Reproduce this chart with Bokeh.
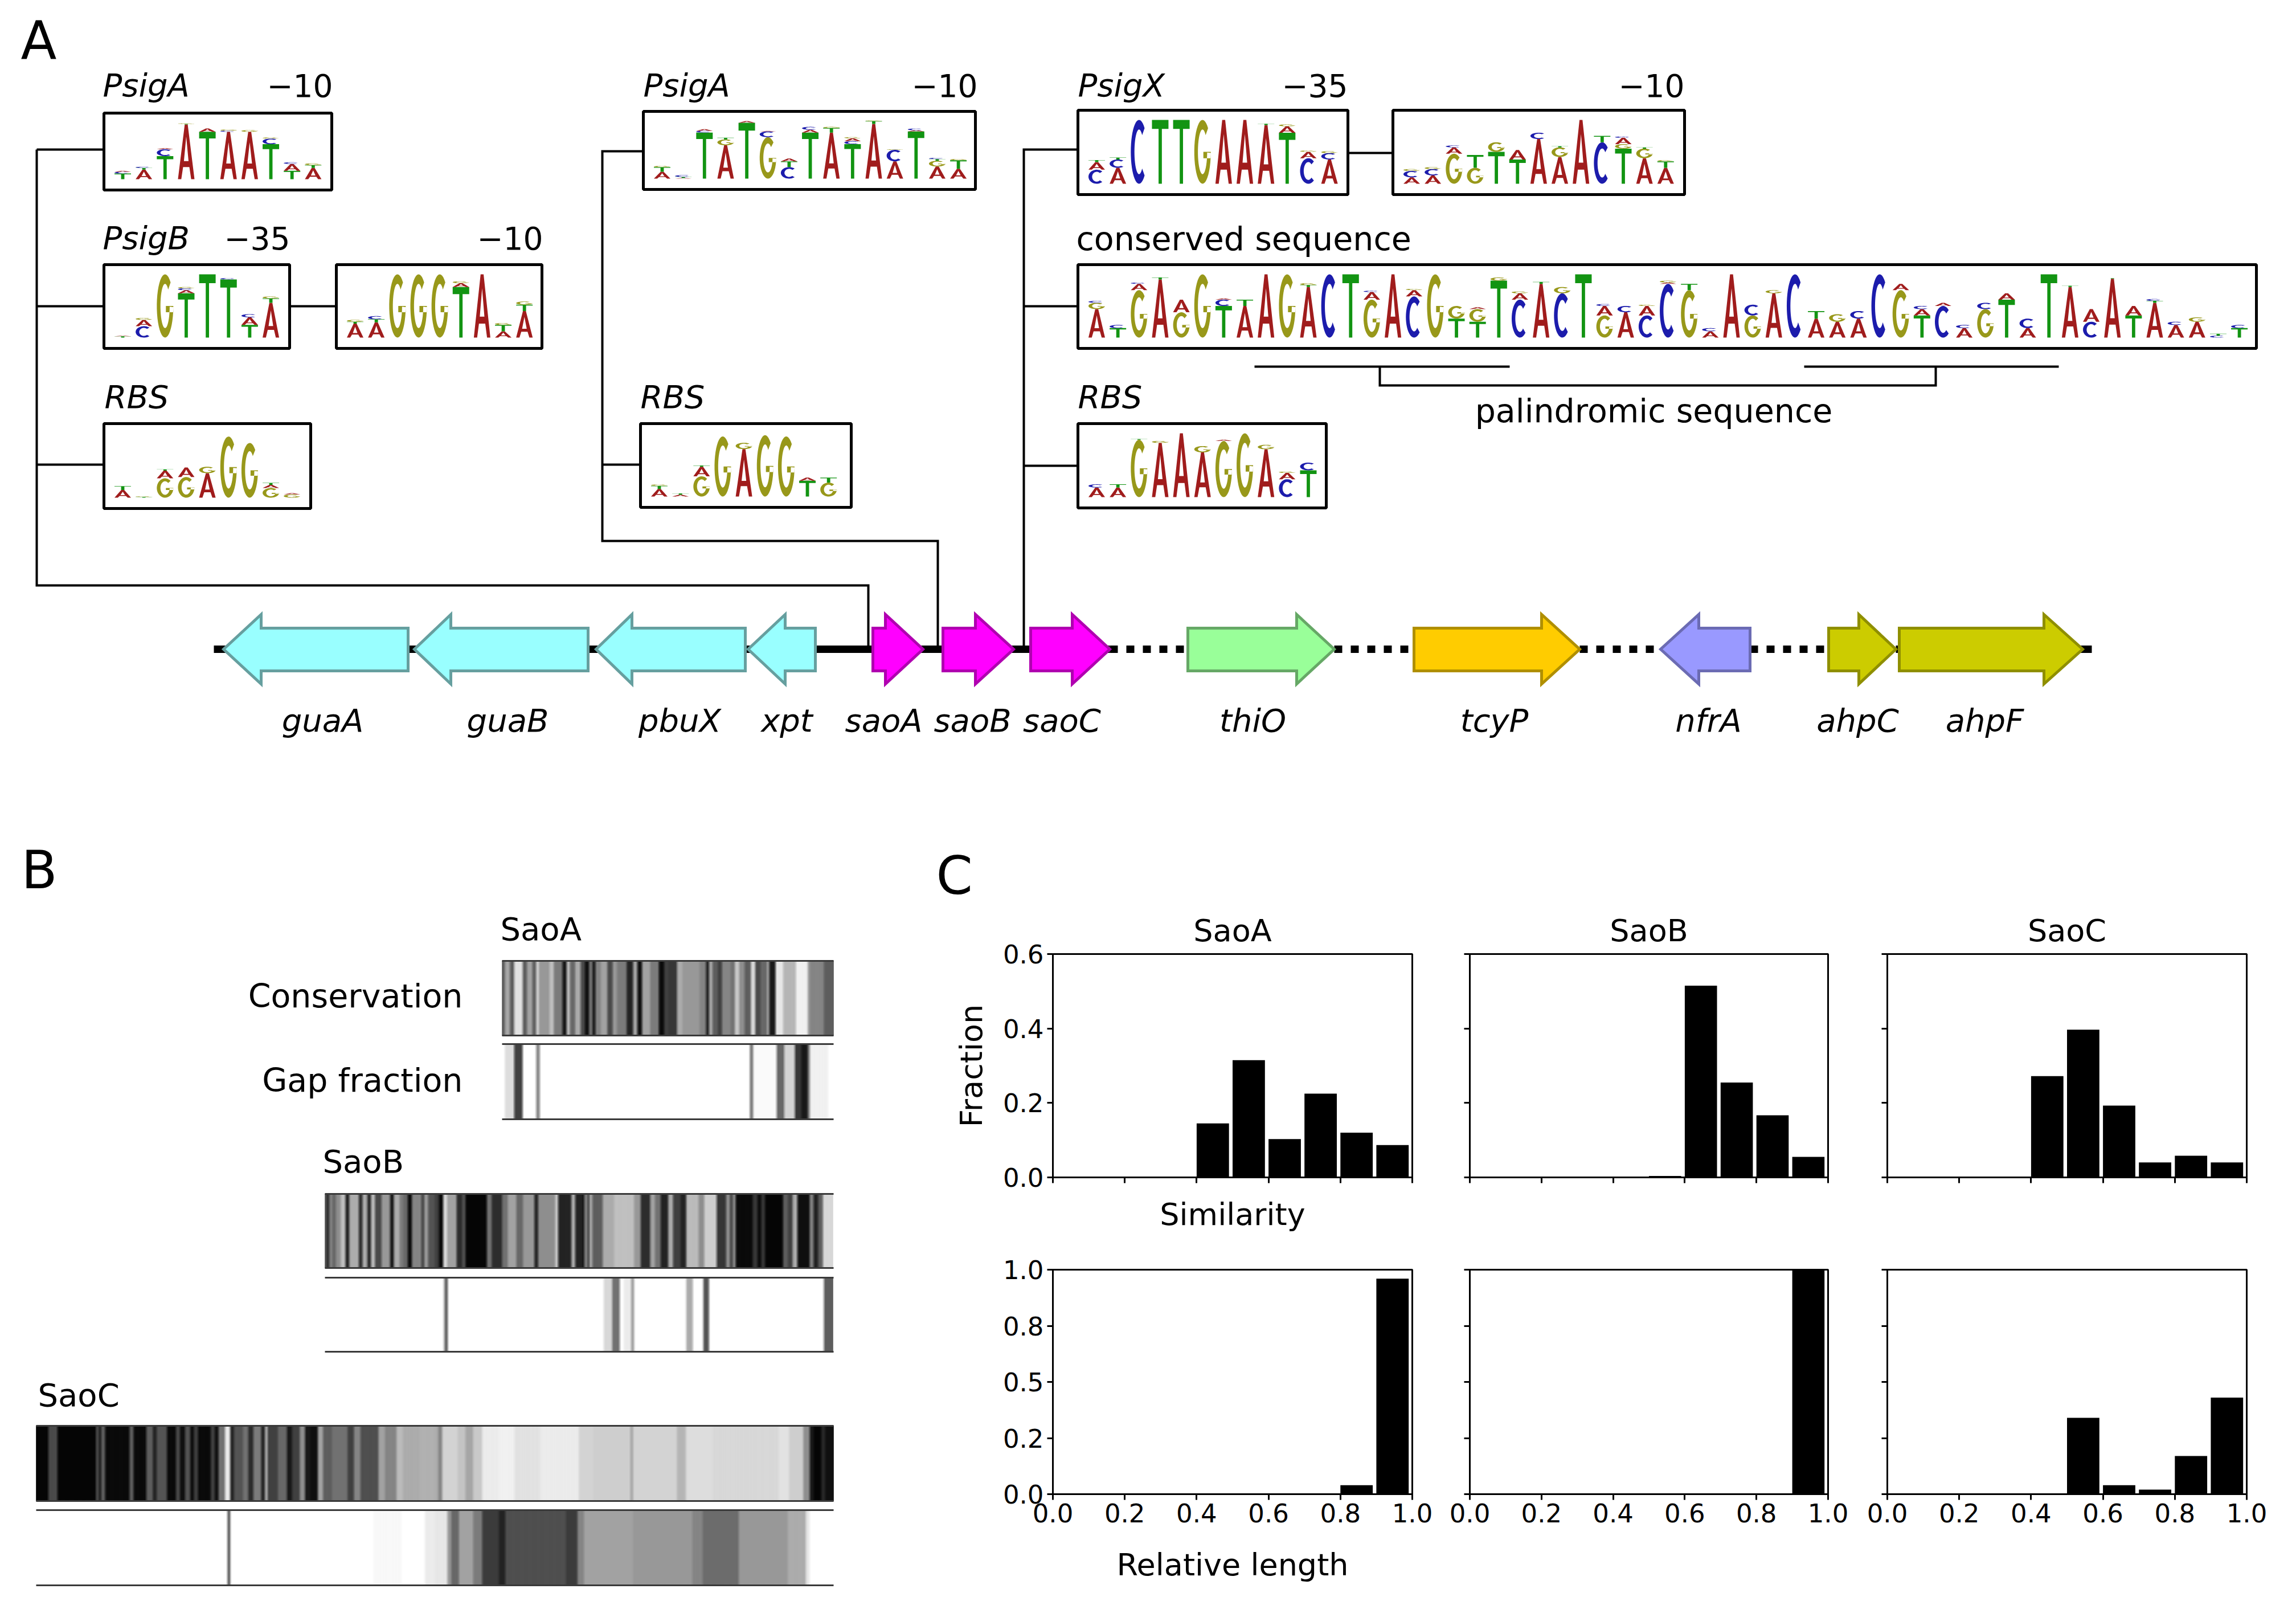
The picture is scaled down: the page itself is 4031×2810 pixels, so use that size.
import math
from bokeh.plotting import figure
from bokeh.models import Range1d, FixedTicker
from bokeh.layouts import column, row
from bokeh.core.properties import value
from bokeh.embed import file_html
from bokeh.resources import INLINE

FONT = "DejaVu Sans"

# ---------- C: histograms ----------
bin_left = [0.0, 0.1, 0.2, 0.3, 0.4, 0.5, 0.6, 0.7, 0.8, 0.9]
sim_saoA = [0, 0, 0, 0, 0.145, 0.315, 0.103, 0.225, 0.120, 0.087]
sim_saoB = [0, 0, 0, 0, 0, 0.004, 0.515, 0.255, 0.167, 0.055]
sim_saoC = [0, 0, 0, 0, 0.272, 0.397, 0.193, 0.040, 0.058, 0.040]
len_saoA = [0, 0, 0, 0, 0, 0, 0, 0, 0.04, 0.96]
len_saoB = [0, 0, 0, 0, 0, 0, 0, 0, 0, 1.0]
len_saoC = [0, 0, 0, 0, 0, 0.34, 0.04, 0.02, 0.17, 0.43]
sim_ticks = [0.0, 0.2, 0.4, 0.6]
len_ticks = [0.0, 0.25, 0.5, 0.75, 1.0]
len_tick_labels = ["0.0", "0.2", "0.5", "0.8", "1.0"]
x_ticks = [0.0, 0.2, 0.4, 0.6, 0.8, 1.0]

# ---------- A: genes ----------
gene_names = ["guaA", "guaB", "pbuX", "xpt", "saoA", "saoB", "saoC", "thiO", "tcyP", "nfrA", "ahpC", "ahpF"]
gene_tail = [716, 1032, 1308, 1431, 1532, 1655, 1809, 2085, 2482, 3072, 3210, 3334]
gene_base = [458, 791, 1109, 1378, 1554, 1712, 1882, 2276, 2706, 2982, 3263, 3588]
gene_tip = [392, 727, 1046, 1313, 1620, 1779, 1948, 2342, 2773, 2915, 3328, 3656]
gene_label_x = [566, 891, 1193, 1381, 1551, 1707, 1864, 2199, 2623, 2999, 3261, 3484]
gene_fill = ["#99ffff"] * 4 + ["#ff00ff"] * 3 + ["#99ff99", "#ffcc00", "#9999ff", "#cccc00", "#cccc00"]
gene_line = ["#669f9f"] * 4 + ["#b000b0"] * 3 + ["#66a866", "#b08f00", "#6b6bb3", "#8f8f00", "#8f8f00"]

# ---------- A: sequence logos (stack from bottom to top, letter + relative height) ----------
logo_psigA_left = ["T.10 C.03 A.02", "A.17 T.03 C.02", "T.41 C.12 A.02", "A.97 T.01 G.01", "T.84 A.06",
                   "A.84 C.02 G.02", "A.84 G.03", "T.62 C.10 G.02", "T.15 A.12 C.03", "A.20 T.05 G.03"]
logo_psigB_35 = ["T.02 A.01", "C.18 A.10 G.03", "G1", "T.70 A.05 C.03 G.02", "T1", "T.92 C.02", "T.20 A.12 C.05", "A.55 T.07 G.03"]
logo_psigB_10 = ["A.22 T.03 G.03", "A.24 T.05 C.05", "G1", "G1", "G1", "T.80 A.06 G.03", "A1", "A.10 T.10 G.03", "A.42 T.10 G.05"]
logo_rbs_left = ["A.12 T.06", "T.01 G.01", "G.30 A.12 T.02", "G.32 A.15", "A.38 G.10", "G.95", "G.85", "G.15 A.05 T.03", "G.05 A.02"]
logo_psigA_mid = ["A.12 T.08 G.02", "A.01 T.02 C.03", "T.80 C.03 A.03", "A.58 G.10 T.03", "T.97 A.03", "G.72 C.10 A.01",
                  "C.20 T.10 A.05", "T.80 A.05 C.05", "A.80 T.08 G.02", "T.60 C.05 A.05 G.02", "A.95 T.05 G.01",
                  "A.30 C.20 G.01", "T.82 A.02 C.03", "A.21 G.10 T.03 C.02", "A.17 T.15 G.02"]
logo_rbs_mid = ["A.12 T.05 G.02", "A.03 T.02", "G.32 A.15 T.02", "G.95", "A.75 G.10", "G.97", "G.95", "T.25 A.05", "G.22 T.08"]
logo_psigX_35 = ["C.22 A.12 T.03", "A.25 C.13 T.03", "C1", "T1", "T1", "G1", "A1", "A1", "A.92 T.02", "T.80 A.10 G.03",
                 "C.40 A.10 G.02", "A.38 C.10 G.03"]
logo_psigX_10 = ["A.10 C.10 G.03", "A.13 C.10 G.03", "G.47 A.10 C.03", "G.25 T.20", "T.50 G.15", "T.38 A.15", "A.70 C.10",
                 "A.42 G.15 T.02", "A1", "C.65 T.10", "T.55 G.07 A.10 C.02", "A.40 G.15 T.02", "A.25 T.10 G.02"]
logo_conserved = ["A.45 G.10 C.03", "T.15 C.05", "G.75 A.10 C.02", "A.92 T.03", "G.40 A.20", "G1", "T.50 C.10 A.02", "A.50 T.10",
                  "A1", "G1", "A.80 T.03 G.03", "C1", "T1", "G.60 A.12 C.02", "A1", "C.65 A.10 G.02", "G1", "T.30 G.20",
                  "T.25 G.20 A.03", "T.90 G.05", "C.60 A.10 G.03", "A.85 T.03", "C.70 G.10", "T1", "G.35 A.15 C.03",
                  "A.40 C.10", "C.35 A.15 G.02", "C.85 A.02 G.03", "G.75 T.10", "A.10 C.05", "A1", "G.35 C.17", "A.70 G.05",
                  "C1", "A.30 T.12", "A.25 G.12", "A.30 C.12", "C1", "G.75 A.10", "T.35 A.10 C.05", "C.50 A.05", "A.15 C.05",
                  "G.45 C.10", "T.60 A.10", "A.15 C.15", "T1", "A.80 T.02", "C.25 A.20", "A.93 T.01", "T.35 A.15",
                  "A.55 T.03 C.03", "A.20 C.05", "A.25 G.07", "C.03 T.03", "T.15 C.05"]
logo_rbs_right = ["A.15 C.05", "A.15 T.05", "G.90 T.01", "A.85 G.03", "A1", "A.70 G.10", "G.88 A.02", "G1", "A.75 G.07",
                  "C.28 A.10 G.02", "T.42 C.12"]

logo_boxes = [
    (182, 582, 198, 333, logo_psigA_left),
    (182, 508, 464, 611, logo_psigB_35),
    (590, 951, 464, 611, logo_psigB_10),
    (182, 545, 743, 892, logo_rbs_left),
    (1129, 1712, 195, 332, logo_psigA_mid),
    (1124, 1494, 743, 890, logo_rbs_mid),
    (1892, 2366, 193, 341, logo_psigX_35),
    (2445, 2957, 193, 341, logo_psigX_10),
    (1892, 3961, 464, 611, logo_conserved),
    (1892, 2328, 743, 891, logo_rbs_right),
]
letter_colors = {"A": "#a01c1c", "T": "#129412", "G": "#98981a", "C": "#1c1cac"}

# ---------- B: conservation / gap strips (segment end, gray level) ----------
saoA_cons = [(22, 90), (45, 165), (65, 90), (105, 225), (125, 90), (150, 160), (168, 90), (180, 215), (230, 150), (250, 190),
             (290, 120), (310, 20), (325, 190), (350, 100), (375, 170), (395, 70), (415, 10), (430, 120), (445, 20), (470, 130),
             (500, 160), (525, 70), (545, 150), (590, 120), (620, 30), (640, 160), (662, 10), (700, 160), (740, 120), (765, 5),
             (785, 60), (825, 50), (850, 170), (930, 150), (960, 130), (975, 30), (990, 170), (1015, 90), (1035, 60), (1075, 130),
             (1095, 110), (1115, 200), (1140, 140), (1170, 90), (1190, 220), (1215, 70), (1245, 100), (1255, 170), (1285, 20),
             (1320, 230), (1380, 180), (1435, 240), (1445, 150), (1510, 130), (1555, 90)]
saoA_gap = [(22, 255), (65, 220), (105, 60), (168, 255), (185, 130), (1165, 255), (1180, 110), (1290, 250), (1325, 100),
            (1375, 210), (1405, 50), (1435, 20), (1445, 120), (1530, 240), (1555, 255)]
saoB_cons_l = [(30, 90), (45, 40), (60, 130), (80, 100), (105, 140), (130, 190), (150, 30), (200, 170), (220, 40), (245, 170),
               (265, 40), (285, 190), (320, 70), (365, 150), (385, 20), (415, 170), (435, 120), (458, 100), (480, 5), (530, 130),
               (545, 60), (565, 150), (600, 80), (622, 60), (645, 5), (665, 220), (715, 160), (745, 40), (762, 80), (875, 0),
               (900, 110), (955, 40), (985, 110), (1030, 160), (1065, 100), (1125, 150), (1145, 30), (1235, 140), (1250, 200),
               (1320, 30), (1340, 170), (1380, 30)]
saoB_cons_r = [(38, 10), (55, 130), (65, 50), (80, 170), (135, 90), (195, 170), (300, 190), (335, 150), (385, 40), (410, 160),
               (440, 110), (480, 30), (505, 170), (545, 60), (575, 30), (640, 185), (670, 140), (735, 205), (785, 50), (805, 140),
               (820, 60), (835, 140), (925, 5), (950, 50), (970, 5), (990, 50), (1085, 0), (1110, 90), (1135, 60), (1160, 170),
               (1225, 10), (1245, 130), (1270, 30), (1295, 90), (1345, 215)]
saoB_gap_l = [(648, 255), (658, 150), (668, 60), (1380, 255)]
saoB_gap_r = [(140, 255), (185, 215), (225, 110), (245, 255), (285, 235), (300, 150), (575, 255), (610, 170), (665, 255),
              (695, 80), (1300, 255), (1345, 90)]
saoC_cons_l = [(70, 0), (105, 70), (255, 0), (265, 80), (275, 20), (290, 90), (385, 5), (400, 90), (450, 5), (475, 90), (490, 30),
               (530, 80), (565, 5), (580, 70), (600, 10), (620, 80), (635, 10), (650, 60), (700, 5), (715, 60), (730, 10),
               (755, 110), (775, 235), (790, 30), (825, 80), (845, 110), (865, 40), (895, 120), (910, 30), (920, 180), (960, 60),
               (995, 100), (1015, 20), (1045, 60), (1065, 140), (1085, 20), (1115, 10), (1135, 160), (1170, 90), (1230, 110),
               (1255, 60), (1280, 130), (1350, 75), (1375, 160), (1420, 130), (1445, 185), (1510, 170), (1568, 175)]
saoC_cons_r = [(25, 170), (40, 130), (100, 210), (130, 195), (160, 165), (195, 200), (260, 235), (320, 240), (420, 225), (570, 235),
               (625, 210), (770, 205), (780, 160), (950, 210), (985, 180), (1090, 220), (1345, 215), (1385, 225), (1440, 205),
               (1465, 140), (1480, 20), (1510, 0), (1525, 35), (1555, 10)]
saoC_gap_l = [(765, 255), (775, 70), (1330, 255), (1440, 248), (1530, 255), (1568, 235)]
saoC_gap_r = [(60, 230), (75, 150), (105, 100), (160, 160), (195, 120), (260, 55), (285, 30), (520, 75), (565, 55), (590, 130),
              (780, 160), (1010, 150), (1050, 130), (1190, 105), (1380, 150), (1450, 170), (1465, 230), (1555, 255)]


# ---------- letter outlines for the logos (unit square) ----------
def arc_ring(a0, a1, ax=0.22, by=0.15):
    n = 36
    angs = [math.radians(a0 + (a1 - a0) * i / n) for i in range(n + 1)]
    out = [(0.5 + 0.5 * math.cos(a), 0.5 + 0.5 * math.sin(a)) for a in angs]
    inn = [(0.5 + (0.5 - ax) * math.cos(a), 0.5 + (0.5 - by) * math.sin(a)) for a in reversed(angs)]
    return out + inn


SHAPE = {
    "T": [[[(0, 1), (1, 1), (1, .86), (.6, .86), (.6, 0), (.4, 0), (.4, .86), (0, .86)]]],
    "A": [[[(0, 0), (.41, 1), (.59, 1), (1, 0), (.8, 0), (.69, .22), (.31, .22), (.2, 0)],
           [(.36, .33), (.5, .78), (.64, .33)]]],
    "C": [[arc_ring(48, 312)]],
    "G": [[arc_ring(48, 358)], [[(.55, .5), (1, .5), (1, .4), (.55, .4)]]],
}


def logo_patches(x0, y1, y0, stacks):
    xs, ys, cols = [], [], []
    base = y1 - 19
    full = (y1 - y0) - 36
    for i, stack in enumerate(stacks):
        cx = x0 + 33 + 37.15 * i
        b = base
        for token in stack.split():
            letter, h = token[0], float(token[1:])
            hh = h * full
            px, py = [], []
            for poly in SHAPE[letter]:
                px.append([[cx - 14.5 + 29 * u for u, v in ring] for ring in poly])
                py.append([[b - hh * v for u, v in ring] for ring in poly])
            xs.append(px)
            ys.append(py)
            cols.append(letter_colors[letter])
            b -= hh
    return xs, ys, cols


def add_text(p, x, y, s, size=56, style="normal", align="left"):
    # y is the wanted baseline; the svg backend draws the alphabetic baseline about a third of an em lower
    p.text(x=[x], y=[y - 0.34 * size], text=[s], text_font=value(FONT), text_font_size=f"{size}px", text_font_style=style,
           text_align=align, text_baseline="alphabetic", text_color="black")


def blank(w, h, x0, x1, y0, y1):
    f = figure(width=w, height=h, x_range=Range1d(x0, x1), y_range=Range1d(y1, y0), toolbar_location=None,
               output_backend="svg", x_axis_location=None, y_axis_location=None, min_border=0, outline_line_color=None)
    f.grid.visible = False
    return f


# ---------- figure A ----------
A = blank(4015, 1450, 0, 4015, 0, 1450)
add_text(A, 36, 102, "A", 92)

conn = [
    ([64, 64, 1524, 1524], [262, 1027, 1027, 1139]), ([64, 182], [262, 262]), ([64, 182], [537, 537]), ([64, 182], [815, 815]),
    ([508, 590], [537, 537]),
    ([1129, 1057, 1057, 1646, 1646], [265, 265, 949, 949, 1139]), ([1057, 1124], [815, 815]),
    ([1892, 1797, 1797], [262, 262, 1139]), ([1797, 1892], [537, 537]), ([1797, 1892], [817, 817]),
    ([2366, 2445], [268, 268]),
    ([2202, 2650], [643, 643]), ([3167, 3614], [643, 643]),
    ([2422, 2422, 3398, 3398], [643, 676, 676, 643]),
]
for cx_, cy_ in conn:
    A.line(cx_, cy_, line_color="black", line_width=4, line_join="miter")

A.line([375, 1948], [1139, 1139], line_color="black", line_width=13)
A.line([3328, 3672], [1139, 1139], line_color="black", line_width=13)
for a, b in [(1948, 2085), (2342, 2482), (2773, 2915), (3072, 3210)]:
    A.line([a, b], [1139, 1139], line_color="black", line_width=13, line_dash="14 15")

gx, gy = [], []
for t, b_, tip in zip(gene_tail, gene_base, gene_tip):
    gx.append([t, b_, b_, tip, b_, b_, t])
    gy.append([1102, 1102, 1078, 1139, 1200, 1177, 1177])
A.patches(gx, gy, fill_color=gene_fill, line_color=gene_line, line_width=5, line_join="miter")
for name, lx in zip(gene_names, gene_label_x):
    add_text(A, lx, 1283, name, 56, "italic", "center")

for (bx0, bx1, by0, by1, stacks) in logo_boxes:
    A.quad(left=[bx0], right=[bx1], top=[by0], bottom=[by1], fill_color="white", line_color="black", line_width=5)
    xs, ys, cols = logo_patches(bx0, by1, by0, stacks)
    A.multi_polygons(xs=xs, ys=ys, fill_color=cols, line_color=None)

add_text(A, 180, 168, "PsigA", 56, "italic")
add_text(A, 584, 168, "\u221210", 55, align="right")
add_text(A, 180, 436, "PsigB", 56, "italic")
add_text(A, 509, 436, "\u221235", 55, align="right")
add_text(A, 953, 436, "\u221210", 55, align="right")
add_text(A, 183, 715, "RBS", 56, "italic")
add_text(A, 1129, 168, "PsigA", 56, "italic")
add_text(A, 1716, 168, "\u221210", 55, align="right")
add_text(A, 1124, 715, "RBS", 56, "italic")
add_text(A, 1892, 168, "PsigX", 56, "italic")
add_text(A, 2366, 168, "\u221235", 55, align="right")
add_text(A, 2957, 168, "\u221210", 55, align="right")
add_text(A, 1889, 438, "conserved sequence", 57)
add_text(A, 2903, 740, "palindromic sequence", 57, align="center")
add_text(A, 1892, 715, "RBS", 56, "italic")

# ---------- figure B ----------
B = blank(1640, 1344, 0, 1640, 1450, 2794)


def to_page(seg, origin, scale):
    return [(origin + e / scale, g) for e, g in seg]


def strip(seg, x0, x1, y0, y1):
    # the reference image is slightly blurred: average each 2 px column over a small window of the read segments
    edges, grays = [], []
    prev = x0
    for e, g in seg:
        e = min(e, x1)
        if e > prev:
            edges.append((prev, e))
            grays.append(g)
            prev = e
    if prev < x1:
        edges.append((prev, x1))
        grays.append(grays[-1])
    left, right, col = [], [], []
    step, blur = 2.0, 2.5
    n = int((x1 - x0) / step)
    for i in range(n):
        a = x0 + i * step
        c = a + step / 2
        lo, hi = max(c - blur, x0), min(c + blur, x1)
        tot = 0.0
        for (l, r), g in zip(edges, grays):
            ov = min(r, hi) - max(l, lo)
            if ov > 0:
                tot += ov * g
        v = int(round(tot / (hi - lo)))
        left.append(a)
        right.append(min(a + step, x1))
        col.append(f"#{v:02x}{v:02x}{v:02x}")
    B.quad(left=left, right=right, top=y0, bottom=y1, fill_color=col, line_color=col, line_width=0.6)
    for y in (y0, y1):
        B.line([x0, x1], [y, y], line_color="#3a3a3a", line_width=3)


XS = -2  # the strips sit 2 px left of the zoom read-out
strip(to_page(saoA_cons, 880 + XS, 1568 / 590), 881, 1463, 1686, 1817)
strip(to_page(saoA_gap, 880 + XS, 1568 / 590), 881, 1463, 1832, 1964)
strip(to_page(saoB_cons_l, 565 + XS, 3) + to_page(saoB_cons_r, 1015 + XS, 3), 570, 1463, 2095, 2225)
strip(to_page(saoB_gap_l, 565 + XS, 3) + to_page(saoB_gap_r, 1015 + XS, 3), 570, 1463, 2242, 2372)
strip(to_page(saoC_cons_l, 55 + XS, 1568 / 710) + to_page(saoC_cons_r, 760 + XS, 1568 / 710), 63, 1463, 2502, 2634)
strip(to_page(saoC_gap_l, 55 + XS, 1568 / 710) + to_page(saoC_gap_r, 760 + XS, 1568 / 710), 63, 1463, 2650, 2782)

add_text(B, 37, 1558, "B", 92)
add_text(B, 878, 1649, "SaoA")
add_text(B, 812, 1767, "Conservation", 57, align="right")
add_text(B, 812, 1915, "Gap fraction", 57, align="right")
add_text(B, 566, 2057, "SaoB")
add_text(B, 66, 2467, "SaoC")


# ---------- figure C ----------
def hist(title, vals, ymax, yticks, width, height, left, right, top, bottom, xlabels, ylabels, ytick_labels=None):
    p = figure(width=width, height=height, x_range=Range1d(0, 1), y_range=Range1d(0, ymax), toolbar_location=None,
               output_backend="svg", min_border_left=left, min_border_right=right, min_border_top=top,
               min_border_bottom=bottom, outline_line_color="black", outline_line_width=3)
    p.grid.visible = False
    p.quad(left=bin_left, right=[b + 0.09 for b in bin_left], bottom=0, top=vals, fill_color="black", line_color=None)
    p.xaxis.ticker = FixedTicker(ticks=x_ticks)
    p.yaxis.ticker = FixedTicker(ticks=yticks)
    for ax in (p.xaxis[0], p.yaxis[0]):
        ax.axis_line_color = "black"
        ax.axis_line_width = 3
        ax.major_tick_in = 0
        ax.major_tick_out = 10
        ax.major_tick_line_width = 3
        ax.minor_tick_line_color = None
        ax.major_label_text_font = FONT
        ax.major_label_text_font_size = "45px"
        ax.major_label_text_color = "black"
        ax.major_label_standoff = 6
        ax.axis_label_text_font = FONT
        ax.axis_label_text_font_size = "54px"
        ax.axis_label_text_font_style = "normal"
        ax.axis_label_text_color = "black"
    if xlabels:
        p.xaxis.major_label_overrides = {t: f"{t:.1f}" for t in x_ticks}
    else:
        p.xaxis.major_label_overrides = {t: "" for t in x_ticks}
    if ylabels:
        labs = ytick_labels or [f"{t:.1f}" for t in yticks]
        p.yaxis.major_label_overrides = dict(zip(yticks, labs))
    else:
        p.yaxis.major_label_overrides = {t: "" for t in yticks}
    if title:
        p.title.text = title
        p.title.align = "center"
        p.title.text_font = FONT
        p.title.text_font_size = "54px"
        p.title.text_font_style = "normal"
        p.title.text_color = "black"
        p.title.standoff = 19
    return p


H = blank(2375, 140, 1640, 4015, 1450, 1590)
add_text(H, 1643, 1568, "C", 92)

h1, h2 = 580, 624
T1 = hist("SaoA", sim_saoA, 0.6, sim_ticks, 890, h1, 208, 51, 81, 104, False, True)
T2 = hist("SaoB", sim_saoB, 0.6, sim_ticks, 730, h1, 50, 51, 81, 104, False, False)
T3 = hist("SaoC", sim_saoC, 0.6, sim_ticks, 755, h1, 53, 71, 81, 104, False, False)
L1 = hist(None, len_saoA, 1.0, len_ticks, 890, h2, 208, 51, 58, 172, True, True, len_tick_labels)
L2 = hist(None, len_saoB, 1.0, len_ticks, 730, h2, 50, 51, 58, 172, True, False)
L3 = hist(None, len_saoC, 1.0, len_ticks, 755, h2, 53, 71, 58, 172, True, False)

T1.yaxis.axis_label = "Fraction"
T1.yaxis.axis_label_standoff = 21
T1.xaxis.axis_label = "Similarity"
T1.xaxis.axis_label_standoff = 23
L1.xaxis.axis_label = "Relative length"
L1.xaxis.axis_label_standoff = 40

right_col = column(H, row(T1, T2, T3, spacing=0), row(L1, L2, L3, spacing=0), spacing=0)
page = column(A, row(B, right_col, spacing=0), spacing=0)
open("out.html", "w").write(file_html(page, INLINE))
